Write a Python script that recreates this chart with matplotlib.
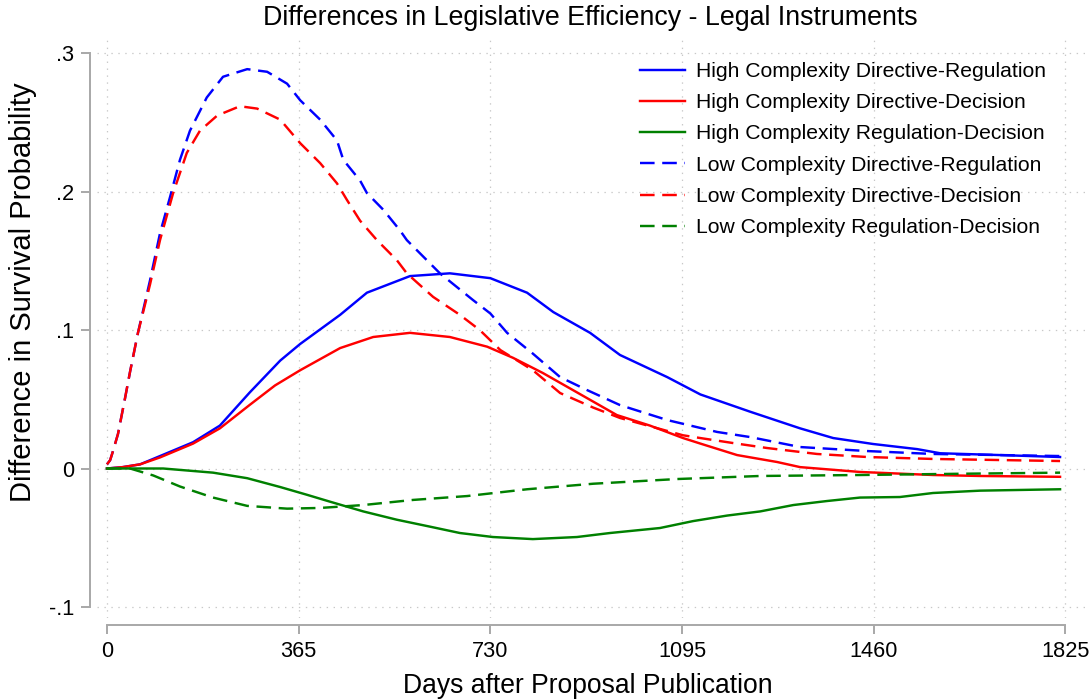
import matplotlib
matplotlib.use("Agg")
import matplotlib.pyplot as plt

plt.rcParams["font.family"] = ["Liberation Sans", "DejaVu Sans"]
plt.rcParams["lines.scale_dashes"] = False

# Difference in survival probability by days after proposal publication
hi_dir_reg_days = [0, 30, 63, 101, 164, 215, 272, 330, 368, 444, 495, 577, 653, 730, 800, 850,
                   920, 977, 1067, 1130, 1225, 1320, 1383, 1459, 1543, 1587, 1701, 1815]
hi_dir_reg_vals = [0.0, 0.001, 0.003, 0.009, 0.019, 0.031, 0.055, 0.078, 0.090, 0.111, 0.127,
                   0.139, 0.141, 0.1375, 0.127, 0.113, 0.098, 0.082, 0.066, 0.0535, 0.041,
                   0.029, 0.022, 0.0177, 0.014, 0.011, 0.0097, 0.0083]

hi_dir_dec_days = [0, 30, 63, 101, 164, 215, 272, 320, 368, 444, 507, 577, 653, 724, 773, 830,
                   895, 971, 1034, 1097, 1130, 1200, 1276, 1320, 1434, 1573, 1663, 1815]
hi_dir_dec_vals = [0.0, 0.001, 0.003, 0.008, 0.018, 0.029, 0.046, 0.060, 0.071, 0.087, 0.095,
                   0.098, 0.095, 0.088, 0.080, 0.069, 0.055, 0.0386, 0.031, 0.022, 0.018,
                   0.0097, 0.0047, 0.001, -0.0025, -0.0047, -0.0054, -0.006]

hi_reg_dec_days = [0, 50, 107, 202, 267, 330, 381, 425, 488, 552, 615, 672, 735, 811, 895, 958,
                   1053, 1116, 1181, 1244, 1307, 1371, 1434, 1510, 1573, 1663, 1815]
hi_reg_dec_vals = [0.0, 0.0, 0.0, -0.003, -0.007, -0.0134, -0.019, -0.024, -0.031, -0.037,
                   -0.042, -0.0466, -0.0495, -0.051, -0.0495, -0.0466, -0.043, -0.038, -0.034,
                   -0.031, -0.0264, -0.0235, -0.021, -0.0206, -0.0177, -0.016, -0.015]

lo_dir_reg_days = [0, 6, 11, 21, 34, 44, 59, 82, 101, 120, 139, 158, 190, 221, 267, 305, 343,
                   368, 406, 438, 450, 482, 495, 526, 558, 571, 634, 697, 730, 762, 811, 863,
                   914, 977, 1067, 1162, 1225, 1320, 1448, 1573, 1815]
lo_dir_reg_vals = [0.003, 0.006, 0.012, 0.025, 0.05, 0.07, 0.098, 0.136, 0.170, 0.196, 0.223,
                   0.244, 0.268, 0.283, 0.2885, 0.2866, 0.278, 0.266, 0.252, 0.237, 0.223,
                   0.208, 0.199, 0.187, 0.172, 0.165, 0.141, 0.1217, 0.112, 0.098, 0.083,
                   0.066, 0.0567, 0.0458, 0.035, 0.0264, 0.0227, 0.0155, 0.0126, 0.0105, 0.009]

lo_dir_dec_days = [0, 6, 11, 21, 34, 44, 59, 82, 101, 126, 152, 177, 210, 253, 286, 330, 368,
                   406, 438, 457, 482, 514, 552, 571, 621, 672, 710, 749, 811, 863, 926, 977,
                   1097, 1130, 1192, 1257, 1352, 1448, 1573, 1815]
lo_dir_dec_vals = [0.003, 0.006, 0.012, 0.025, 0.05, 0.07, 0.098, 0.133, 0.165, 0.199, 0.228,
                   0.244, 0.255, 0.2617, 0.260, 0.252, 0.235, 0.2206, 0.206, 0.194, 0.179,
                   0.165, 0.1505, 0.141, 0.124, 0.111, 0.100, 0.0856, 0.071, 0.0545, 0.044,
                   0.0365, 0.024, 0.022, 0.0184, 0.0148, 0.0105, 0.0083, 0.0069, 0.0054]

lo_reg_dec_days = [0, 44, 88, 139, 202, 267, 343, 406, 488, 583, 686, 800, 926, 1086, 1244,
                   1434, 1625, 1815]
lo_reg_dec_vals = [0.0, 0.0, -0.005, -0.013, -0.021, -0.027, -0.029, -0.0285, -0.0264,
                   -0.0227, -0.0199, -0.015, -0.011, -0.0076, -0.0054, -0.0047, -0.0038, -0.003]

x_ticks = [0, 365, 730, 1095, 1460, 1825]
y_ticks = [-0.1, 0, 0.1, 0.2, 0.3]
y_ticklabels = ["-.1", "0", ".1", ".2", ".3"]

series = [
    ("High Complexity Directive-Regulation", hi_dir_reg_days, hi_dir_reg_vals, "#0000ff", "-"),
    ("High Complexity Directive-Decision", hi_dir_dec_days, hi_dir_dec_vals, "#ff0000", "-"),
    ("High Complexity Regulation-Decision", hi_reg_dec_days, hi_reg_dec_vals, "#008000", "-"),
    ("Low Complexity Directive-Regulation", lo_dir_reg_days, lo_dir_reg_vals, "#0000ff", "--"),
    ("Low Complexity Directive-Decision", lo_dir_dec_days, lo_dir_dec_vals, "#ff0000", "--"),
    ("Low Complexity Regulation-Decision", lo_reg_dec_days, lo_reg_dec_vals, "#008000", "--"),
]

W, H = 1090, 700
fig = plt.figure(figsize=(W / 100, H / 100), dpi=100)
ax = fig.add_axes([97 / W, (H - 618) / H, (W - 97) / W, (618 - 38) / H])

handles = []
for label, days, vals, color, style in series:
    kw = dict(color=color, lw=1.75, solid_joinstyle="round", dash_capstyle="butt")
    if style == "--":
        kw["dashes"] = (10.5, 5.5)
    line, = ax.plot(days, vals, label=label, **kw)
    handles.append(line)

ax.set_xlim(-19, 1872)
ax.set_ylim(-0.108, 0.311)

ax.set_xticks(x_ticks)
ax.set_xticklabels([str(t) for t in x_ticks])
ax.set_yticks(y_ticks)
ax.set_yticklabels(y_ticklabels)

ax.grid(True, color="#c8c8c8", linestyle=(0, (1, 4)), lw=0.9)
ax.set_axisbelow(True)

for side in ("top", "right"):
    ax.spines[side].set_visible(False)
for side in ("left", "bottom"):
    ax.spines[side].set_color("#a8a8a8")
    ax.spines[side].set_linewidth(1.4)
    ax.spines[side].set_position(("outward", 5))
ax.spines["left"].set_bounds(-0.1, 0.3)
ax.spines["bottom"].set_bounds(0, 1825)

ax.tick_params(axis="both", colors="#a8a8a8", length=6.5, width=1.4, labelsize=15.7,
               labelcolor="black", pad=5)

fig.text(590 / W, 1 - 18 / H, "Differences in Legislative Efficiency - Legal Instruments",
         fontsize=19.3, ha="center", va="center")
fig.text(588 / W, 1 - 686 / H, "Days after Proposal Publication", fontsize=19.1,
         ha="center", va="center")
fig.text(23 / W, 1 - 292 / H, "Difference in Survival Probability", fontsize=21,
         ha="center", va="center", rotation=90)

leg = ax.legend(handles=handles, loc="upper left", bbox_to_anchor=(640 / W, 1 - 62 / H),
                bbox_transform=fig.transFigure, frameon=False, fontsize=15.2,
                handlelength=2.13, handletextpad=0.52, labelspacing=0.58, borderpad=0,
                borderaxespad=0)

fig.savefig("out.png", dpi=100)
